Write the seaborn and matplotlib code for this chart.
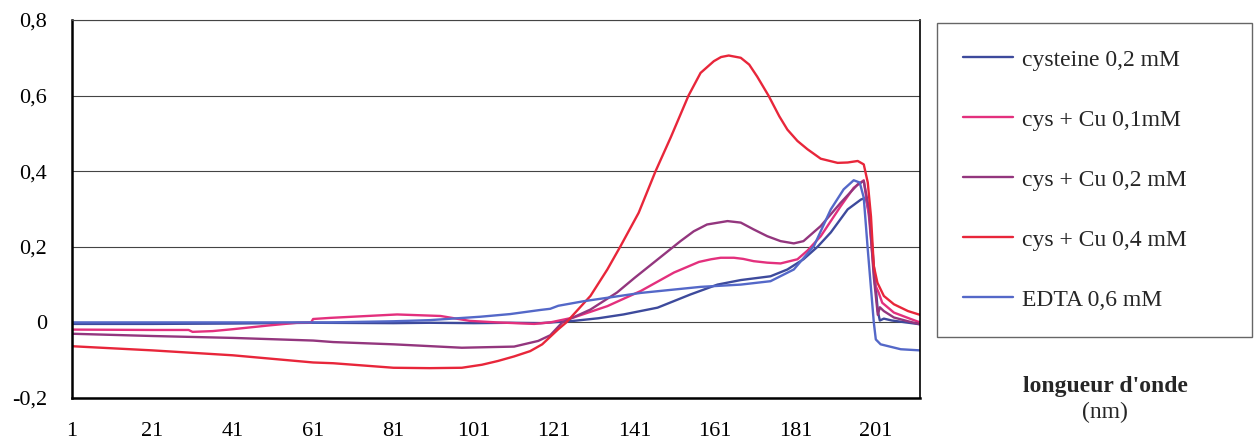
import numpy as np
import pandas as pd
import matplotlib
matplotlib.use("Agg")
import matplotlib.pyplot as plt
import seaborn as sns
from matplotlib.ticker import FixedLocator, FuncFormatter

# values (x = point index along the scan)
cys_x = [1, 21, 41, 61, 81, 90, 101, 110, 117.6, 125.8, 132, 138.2, 146.7, 154.9,
         161.6, 167.4, 174.8, 179, 183, 186.5, 189.8, 194, 197.3, 198.5, 199.5,
         200.5, 201.5, 202, 203, 205, 212]
cys_y = [-0.004, -0.004, -0.003, -0.001, -0.002, -0.001, -0.002, -0.001, -0.002,
         0.004, 0.011, 0.021, 0.039, 0.074, 0.100, 0.112, 0.122, 0.140, 0.167,
         0.200, 0.238, 0.299, 0.325, 0.330, 0.280, 0.150, 0.030, 0.005, 0.010,
         0.005, -0.005]

cu01_x = [1, 21, 30, 31, 36, 41, 50, 57, 60.5, 61, 65.3, 81.9, 92.7, 100, 106.8,
          116, 120, 125.8, 134.2, 142.5, 150.8, 157, 160, 162.4, 165.7, 168,
          170.6, 174, 177.3, 181.5, 184, 187.3, 192.3, 195.5, 198, 199.3, 200.8,
          201.7, 202.6, 205.5, 209.7, 212]
cu01_y = [-0.019, -0.020, -0.020, -0.025, -0.023, -0.018, -0.008, -0.001, 0.0,
          0.009, 0.012, 0.021, 0.017, 0.004, 0.0, -0.004, 0.0, 0.013, 0.043,
          0.083, 0.132, 0.160, 0.167, 0.171, 0.171, 0.168, 0.162, 0.158, 0.156,
          0.167, 0.190, 0.228, 0.308, 0.356, 0.376, 0.280, 0.100, 0.079, 0.052,
          0.026, 0.009, 0.0]

cu02_x = [1, 21, 41, 61, 66, 81, 98, 111, 117, 120, 123, 130, 136.6, 141, 145, 149,
          152.4, 155.7, 159, 164.1, 167.4, 170.6, 174, 177.3, 180.6, 183, 187.3,
          192.3, 196.5, 198, 199.3, 200.5, 201.5, 202, 203, 205.5, 209, 212]
cu02_y = [-0.030, -0.036, -0.041, -0.048, -0.052, -0.058, -0.067, -0.064, -0.049,
          -0.034, 0.0, 0.034, 0.079, 0.118, 0.152, 0.186, 0.215, 0.241, 0.259,
          0.268, 0.264, 0.246, 0.228, 0.215, 0.209, 0.215, 0.255, 0.317, 0.365,
          0.374, 0.300, 0.120, 0.020, 0.040, 0.030, 0.013, 0.003, -0.005]

cu04_x = [1, 21, 41, 61, 66, 81, 90, 98, 103, 107, 111, 115, 118, 120, 122, 124,
          127, 130, 134.2, 137.5, 142, 146.2, 150, 154.4, 157.4, 160.7, 162.5,
          164.4, 167.4, 169.5, 171.5, 174.3, 177, 179, 181.5, 184, 187.3, 191.5,
          194, 196.5, 198, 199, 199.8, 200.5, 201.4, 203, 205.5, 209, 212]
cu04_y = [-0.063, -0.074, -0.087, -0.106, -0.108, -0.120, -0.121, -0.120, -0.112,
          -0.102, -0.090, -0.076, -0.058, -0.038, -0.018, 0.0, 0.035, 0.070,
          0.140, 0.202, 0.290, 0.400, 0.490, 0.600, 0.660, 0.691, 0.702, 0.706,
          0.700, 0.682, 0.650, 0.600, 0.545, 0.510, 0.480, 0.458, 0.433, 0.422,
          0.423, 0.427, 0.418, 0.370, 0.280, 0.149, 0.105, 0.070, 0.048, 0.030,
          0.020]

edta_x = [1, 21, 41, 61, 65, 81, 90, 102.6, 110, 117.6, 120, 122, 128.3, 142.5,
          157.4, 167.4, 174.8, 180.6, 185.6, 189.8, 193, 195.5, 197, 198, 199,
          200.5, 201, 202.2, 207.2, 212]
edta_y = [0.0, 0.0, 0.0, 0.0, 0.0, 0.003, 0.006, 0.015, 0.022, 0.033, 0.036, 0.044,
          0.056, 0.078, 0.094, 0.100, 0.109, 0.140, 0.202, 0.299, 0.352, 0.376,
          0.370, 0.330, 0.193, 0.0, -0.045, -0.058, -0.071, -0.074]

series_labels = ["cysteine 0,2 mM", "cys + Cu 0,1mM", "cys + Cu 0,2 mM",
                 "cys + Cu 0,4 mM", "EDTA 0,6 mM"]
series_colors = ["#3d4a9c", "#e3307d", "#93367e", "#e8263a", "#5468c8"]

x_ticks = [1, 21, 41, 61, 81, 101, 121, 141, 161, 181, 201]
y_ticks = [-0.2, 0, 0.2, 0.4, 0.6, 0.8]

sns.set_theme(style="white")
plt.rcParams['font.family'] = ['Liberation Serif', 'DejaVu Serif']

fig = plt.figure(figsize=(12.56, 4.47), dpi=100)
ax = fig.add_axes([0.0573, 0.1096, 0.6752, 0.8457])

all_x = [cys_x, cu01_x, cu02_x, cu04_x, edta_x]
all_y = [cys_y, cu01_y, cu02_y, cu04_y, edta_y]
for xs, ys, lab, col in zip(all_x, all_y, series_labels, series_colors):
    df = pd.DataFrame({"x": xs, "y": ys})
    sns.lineplot(data=df, x="x", y="y", ax=ax, color=col, label=lab,
                 linewidth=1.7, estimator=None)

ax.set_xlim(1, 212)
ax.set_ylim(-0.2, 0.8)
ax.xaxis.set_major_locator(FixedLocator(x_ticks))
ax.xaxis.set_minor_locator(FixedLocator([11, 31, 51, 71, 91, 111, 131, 151, 171, 191, 211]))
ax.yaxis.set_major_locator(FixedLocator(y_ticks))
ax.yaxis.set_major_formatter(FuncFormatter(
    lambda v, p: "0" if abs(v) < 1e-9 else ("%.1f" % v).replace(".", ",")))
ax.set_xlabel("")
ax.set_ylabel("")

ax.grid(axis="y", color="#444444", linewidth=0.8)
ax.grid(axis="x", visible=False)
ax.tick_params(axis="both", which="both", direction="out", colors="#222222",
               labelcolor="black", labelsize=16)
ax.tick_params(axis="y", length=4, width=0.8, pad=14)
ax.tick_params(axis="x", which="major", length=4, width=0.8, pad=13)
ax.tick_params(axis="x", which="minor", length=4, width=0.8)
for side in ["left", "bottom"]:
    ax.spines[side].set_color("black")
    ax.spines[side].set_linewidth(1.8)
ax.spines["right"].set_color("black")
ax.spines["right"].set_linewidth(1.2)
ax.spines["top"].set_color("#444444")
ax.spines["top"].set_linewidth(0.8)

handles, labels = ax.get_legend_handles_labels()
ax.get_legend().remove()
leg = fig.legend(handles, labels, loc="upper left",
                 bbox_to_anchor=(0.746, 0.2685, 0.2508, 0.680), mode="expand",
                 fontsize=17, frameon=True, fancybox=False, framealpha=1,
                 edgecolor="#666666", borderpad=1.1, labelspacing=1.63,
                 handlelength=2.1, handletextpad=0.4, borderaxespad=0)
leg.get_frame().set_linewidth(1.0)

fig.text(0.88, 0.135, "longueur d'onde", ha="center", va="center",
         fontsize=17, fontweight="bold")
fig.text(0.88, 0.077, "(nm)", ha="center", va="center", fontsize=17)

fig.savefig("out.png", dpi=100)
